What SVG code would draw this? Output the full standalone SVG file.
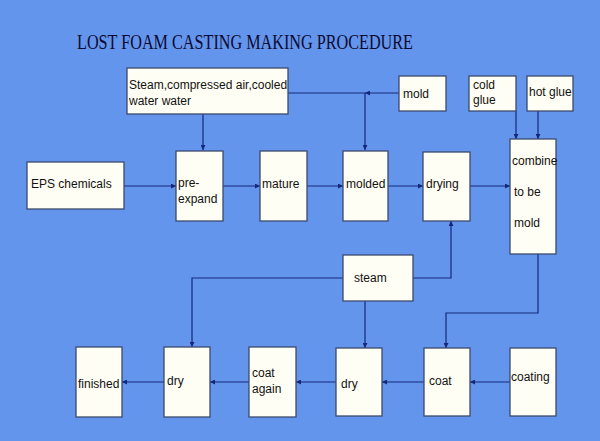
<svg xmlns="http://www.w3.org/2000/svg" width="600" height="441" viewBox="0 0 600 441">
<style>
.bx{fill:#FFFEF4;stroke:#3C4A6E;stroke-width:1.3}
.t{font-family:"Liberation Sans",Arial,sans-serif;font-size:12px;fill:#111}
.c{fill:none;stroke:#14287A;stroke-width:1.2}
</style>
<defs>
<marker id="ah" viewBox="0 0 10 10" refX="10" refY="5" markerWidth="5" markerHeight="5" orient="auto" markerUnits="userSpaceOnUse">
<path d="M0,0 L10,5 L0,10 z" fill="#14287A"/>
</marker>
</defs>
<rect width="600" height="441" fill="#6495ED"/>
<text x="77" y="49" font-family="'Liberation Serif','Times New Roman',serif" font-size="21" fill="#0A0A30" textLength="336" lengthAdjust="spacingAndGlyphs">LOST FOAM CASTING MAKING PROCEDURE</text>

<g id="connectors">
<path class="c" d="M203,114 V150" marker-end="url(#ah)"/>
<path class="c" d="M288,93 H365"/>
<path class="c" d="M399,93 H365" marker-end="url(#ah)"/>
<path class="c" d="M365,93 V150" marker-end="url(#ah)"/>
<path class="c" d="M516,111 V139" marker-end="url(#ah)"/>
<path class="c" d="M538,111 V139" marker-end="url(#ah)"/>
<path class="c" d="M124,186 H176" marker-end="url(#ah)"/>
<path class="c" d="M223,186 H260" marker-end="url(#ah)"/>
<path class="c" d="M307,186 H343" marker-end="url(#ah)"/>
<path class="c" d="M388,186 H423" marker-end="url(#ah)"/>
<path class="c" d="M470,186 H510" marker-end="url(#ah)"/>
<path class="c" d="M413,278 H451 V221" marker-end="url(#ah)"/>
<path class="c" d="M343,278 H192 V347" marker-end="url(#ah)"/>
<path class="c" d="M365,301 V348" marker-end="url(#ah)"/>
<path class="c" d="M538,254 V313 H446 V348" marker-end="url(#ah)"/>
<path class="c" d="M510,382 H470" marker-end="url(#ah)"/>
<path class="c" d="M424,382 H382" marker-end="url(#ah)"/>
<path class="c" d="M336,382 H296" marker-end="url(#ah)"/>
<path class="c" d="M249,382 H210" marker-end="url(#ah)"/>
<path class="c" d="M164,382 H122" marker-end="url(#ah)"/>
</g>

<g id="steam-air"><rect class="bx" x="127" y="68" width="161" height="46"/><text class="t" x="129" y="89">Steam,compressed air,cooled</text><text class="t" x="129" y="105">water water</text></g>
<g id="mold"><rect class="bx" x="399" y="76" width="47" height="35"/><text class="t" x="403" y="98">mold</text></g>
<g id="cold-glue"><rect class="bx" x="469" y="76" width="47" height="35"/><text class="t" x="473" y="89">cold</text><text class="t" x="473" y="104">glue</text></g>
<g id="hot-glue"><rect class="bx" x="527" y="76" width="46" height="35"/><text class="t" x="529" y="96">hot glue</text></g>

<g id="eps"><rect class="bx" x="27" y="162" width="97" height="47"/><text class="t" x="31" y="188">EPS chemicals</text></g>
<g id="pre-expand"><rect class="bx" x="176" y="151" width="47" height="70"/><text class="t" x="178" y="187">pre-</text><text class="t" x="178" y="203">expand</text></g>
<g id="mature"><rect class="bx" x="260" y="151" width="47" height="70"/><text class="t" x="262" y="188">mature</text></g>
<g id="molded"><rect class="bx" x="343" y="151" width="45" height="70"/><text class="t" x="346" y="188">molded</text></g>
<g id="drying"><rect class="bx" x="423" y="152" width="47" height="69"/><text class="t" x="426" y="188">drying</text></g>
<g id="combine"><rect class="bx" x="510" y="139" width="46" height="115"/><text class="t" x="512" y="165">combine</text><text class="t" x="514" y="196">to be</text><text class="t" x="514" y="227">mold</text></g>

<g id="steam"><rect class="bx" x="343" y="255" width="70" height="46"/><text class="t" x="354" y="282">steam</text></g>

<g id="finished"><rect class="bx" x="76" y="347" width="46" height="70"/><text class="t" x="78" y="388">finished</text></g>
<g id="dry1"><rect class="bx" x="164" y="347" width="46" height="70"/><text class="t" x="167" y="385">dry</text></g>
<g id="coat-again"><rect class="bx" x="249" y="347" width="47" height="70"/><text class="t" x="252" y="377">coat</text><text class="t" x="252" y="393">again</text></g>
<g id="dry2"><rect class="bx" x="336" y="348" width="46" height="68"/><text class="t" x="341" y="388">dry</text></g>
<g id="coat"><rect class="bx" x="424" y="348" width="46" height="68"/><text class="t" x="429" y="385">coat</text></g>
<g id="coating"><rect class="bx" x="510" y="348" width="46" height="68"/><text class="t" x="511" y="381">coating</text></g>
</svg>
